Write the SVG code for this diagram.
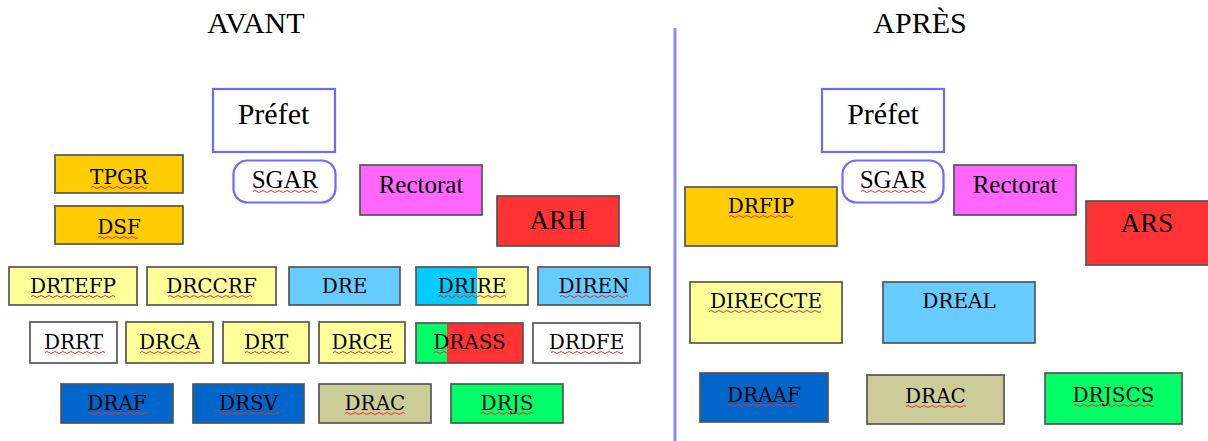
<svg xmlns="http://www.w3.org/2000/svg" width="1208" height="441" viewBox="0 0 1208 441">
<defs>
<style>
.b{stroke:#555;stroke-width:1.7}
.o{fill:none;stroke:#555;stroke-width:1.7}
.p{fill:#fff;stroke:#6b6bff;stroke-width:2.2}
.l{font-family:"DejaVu Serif",serif;font-size:20px;fill:#000;text-anchor:middle}
.s{font-family:"Liberation Serif",serif;fill:#000;text-anchor:middle}
.t{font-family:"Liberation Serif",serif;font-size:30px;fill:#000;text-anchor:middle}
.w{fill:none;stroke:#e8322e;stroke-width:1}
.y1{fill:#ffcc00}.y2{fill:#ffff99}.bl{fill:#66ccff}.cy{fill:#00ccff}.gr{fill:#00ff66}.rd{fill:#ff3333}.mg{fill:#ff66ff}.db{fill:#0066cc}.kh{fill:#cccc99}.wh{fill:#fff}
</style>
</defs>
<rect width="1208" height="441" fill="#fff"/>
<text class="t" x="256" y="33">AVANT</text>
<text class="t" x="920" y="33">APRÈS</text>
<g id="divider"><line x1="675" y1="28" x2="675" y2="441" stroke="#8c8cff" stroke-width="3"/></g>
<g id="connectors"></g>

<!-- AVANT -->
<g id="prefet-avant"><rect class="p" x="213" y="89" width="122" height="63"/><text class="s" font-size="30" x="273.5" y="124">Préfet</text></g>
<g id="sgar-avant"><rect class="p" x="233.5" y="160.5" width="102" height="42" rx="14"/><text class="s" font-size="25" x="285" y="188">SGAR</text>
<path class="w" d="M253 191.5 q2 -2 4 0 t4 0 t4 0 t4 0 t4 0 t4 0 t4 0 t4 0 t4 0 t4 0 t4 0 t4 0 t4 0 t4 0 t4 0 t4 0"/></g>
<g id="tpgr"><rect class="b y1" x="55" y="155" width="128" height="38"/><text class="l" x="119" y="184">TPGR</text>
<path class="w" d="M91 187.5 q2 -2 4 0 t4 0 t4 0 t4 0 t4 0 t4 0 t4 0 t4 0 t4 0 t4 0 t4 0 t4 0 t4 0 t4 0"/></g>
<g id="dsf"><rect class="b y1" x="55" y="206" width="128" height="38"/><text class="l" x="119" y="234">DSF</text>
<path class="w" d="M98 237.5 q2 -2 4 0 t4 0 t4 0 t4 0 t4 0 t4 0 t4 0 t4 0 t4 0 t4 0"/></g>
<g id="rectorat-avant"><rect class="b mg" x="360" y="165" width="122" height="50"/><text class="s" font-size="25" x="421" y="193">Rectorat</text></g>
<g id="arh"><rect class="b rd" x="497" y="196" width="122" height="50"/><text class="s" font-size="27" x="558" y="229">ARH</text>
<path class="w" d="M530 232.5 q2 -2 4 0 t4 0 t4 0 t4 0 t4 0 t4 0 t4 0 t4 0 t4 0 t4 0 t4 0 t4 0 t4 0 t4 0"/></g>

<g id="drtefp"><rect class="b y2" x="9" y="267" width="128" height="38"/><text class="l" x="73" y="293">DRTEFP</text>
<path class="w" d="M31 296.5 q2 -2 4 0 t4 0 t4 0 t4 0 t4 0 t4 0 t4 0 t4 0 t4 0 t4 0 t4 0 t4 0 t4 0 t4 0 t4 0 t4 0 t4 0 t4 0 t4 0 t4 0 t4 0"/></g>
<g id="drccrf"><rect class="b y2" x="147" y="267" width="129" height="38"/><text class="l" x="211.5" y="293">DRCCRF</text>
<path class="w" d="M168 296.5 q2 -2 4 0 t4 0 t4 0 t4 0 t4 0 t4 0 t4 0 t4 0 t4 0 t4 0 t4 0 t4 0 t4 0 t4 0 t4 0 t4 0 t4 0 t4 0 t4 0 t4 0 t4 0"/></g>
<g id="dre"><rect class="b bl" x="289" y="267" width="111" height="38"/><text class="l" x="344.5" y="293">DRE</text></g>
<g id="drire"><rect class="cy" x="416" y="267" width="61" height="38"/><rect class="y2" x="477" y="267" width="51" height="38"/><rect class="o" x="416" y="267" width="112" height="38"/><text class="l" x="472" y="293">DRIRE</text>
<path class="w" d="M438 296.5 q2 -2 4 0 t4 0 t4 0 t4 0 t4 0 t4 0 t4 0 t4 0 t4 0 t4 0 t4 0 t4 0 t4 0 t4 0 t4 0 t4 0 t4 0"/></g>
<g id="diren"><rect class="b bl" x="538" y="267" width="112" height="38"/><text class="l" x="594" y="293">DIREN</text>
<path class="w" d="M560 296.5 q2 -2 4 0 t4 0 t4 0 t4 0 t4 0 t4 0 t4 0 t4 0 t4 0 t4 0 t4 0 t4 0 t4 0 t4 0 t4 0 t4 0 t4 0"/></g>

<g id="drrt"><rect class="b wh" x="30" y="322" width="87" height="41"/><text class="l" x="73.5" y="349">DRRT</text>
<path class="w" d="M45 352.5 q2 -2 4 0 t4 0 t4 0 t4 0 t4 0 t4 0 t4 0 t4 0 t4 0 t4 0 t4 0 t4 0 t4 0 t4 0 t4 0"/></g>
<g id="drca"><rect class="b y2" x="126" y="322" width="87" height="41"/><text class="l" x="169.5" y="349">DRCA</text>
<path class="w" d="M140 352.5 q2 -2 4 0 t4 0 t4 0 t4 0 t4 0 t4 0 t4 0 t4 0 t4 0 t4 0 t4 0 t4 0 t4 0 t4 0 t4 0"/></g>
<g id="drt"><rect class="b y2" x="223" y="322" width="86" height="41"/><text class="l" x="266" y="349">DRT</text>
<path class="w" d="M245 352.5 q2 -2 4 0 t4 0 t4 0 t4 0 t4 0 t4 0 t4 0 t4 0 t4 0 t4 0 t4 0"/></g>
<g id="drce"><rect class="b y2" x="319" y="322" width="86" height="41"/><text class="l" x="362" y="349">DRCE</text>
<path class="w" d="M333 352.5 q2 -2 4 0 t4 0 t4 0 t4 0 t4 0 t4 0 t4 0 t4 0 t4 0 t4 0 t4 0 t4 0 t4 0 t4 0 t4 0"/></g>
<g id="drass"><rect class="gr" x="416" y="323" width="31" height="40"/><rect class="rd" x="447" y="323" width="76" height="40"/><rect class="o" x="416" y="323" width="107" height="40"/><text class="l" x="469.5" y="349">DRASS</text>
<path class="w" d="M434 352.5 q2 -2 4 0 t4 0 t4 0 t4 0 t4 0 t4 0 t4 0 t4 0 t4 0 t4 0 t4 0 t4 0 t4 0 t4 0 t4 0 t4 0 t4 0 t4 0"/></g>
<g id="drdfe"><rect class="b wh" x="533" y="323" width="107" height="40"/><text class="l" x="586.5" y="349">DRDFE</text>
<path class="w" d="M551 352.5 q2 -2 4 0 t4 0 t4 0 t4 0 t4 0 t4 0 t4 0 t4 0 t4 0 t4 0 t4 0 t4 0 t4 0 t4 0 t4 0 t4 0 t4 0 t4 0"/></g>

<g id="draf"><rect class="b db" x="61" y="384" width="112" height="39"/><text class="l" x="117" y="410">DRAF</text>
<path class="w" d="M88 413.5 q2 -2 4 0 t4 0 t4 0 t4 0 t4 0 t4 0 t4 0 t4 0 t4 0 t4 0 t4 0 t4 0 t4 0 t4 0 t4 0"/></g>
<g id="drsv"><rect class="b db" x="193" y="384" width="111" height="39"/><text class="l" x="248.5" y="410">DRSV</text>
<path class="w" d="M219 413.5 q2 -2 4 0 t4 0 t4 0 t4 0 t4 0 t4 0 t4 0 t4 0 t4 0 t4 0 t4 0 t4 0 t4 0 t4 0 t4 0"/></g>
<g id="drac-avant"><rect class="b kh" x="319" y="384" width="112" height="39"/><text class="l" x="375" y="410">DRAC</text>
<path class="w" d="M345 413.5 q2 -2 4 0 t4 0 t4 0 t4 0 t4 0 t4 0 t4 0 t4 0 t4 0 t4 0 t4 0 t4 0 t4 0 t4 0 t4 0"/></g>
<g id="drjs"><rect class="b gr" x="451" y="384" width="112" height="39"/><text class="l" x="507" y="410">DRJS</text>
<path class="w" d="M481 413.5 q2 -2 4 0 t4 0 t4 0 t4 0 t4 0 t4 0 t4 0 t4 0 t4 0 t4 0 t4 0 t4 0 t4 0"/></g>

<!-- APRES -->
<g id="prefet-apres"><rect class="p" x="822" y="89" width="122" height="63"/><text class="s" font-size="30" x="883" y="124">Préfet</text></g>
<g id="sgar-apres"><rect class="p" x="842.5" y="160.5" width="101" height="42" rx="14"/><text class="s" font-size="25" x="893" y="188">SGAR</text>
<path class="w" d="M861 191.5 q2 -2 4 0 t4 0 t4 0 t4 0 t4 0 t4 0 t4 0 t4 0 t4 0 t4 0 t4 0 t4 0 t4 0 t4 0 t4 0 t4 0"/></g>
<g id="rectorat-apres"><rect class="b mg" x="954" y="165" width="122" height="50"/><text class="s" font-size="25" x="1015" y="193">Rectorat</text></g>
<g id="ars"><rect class="b rd" x="1086" y="201" width="123" height="64"/><text class="s" font-size="27" x="1147" y="232">ARS</text></g>
<g id="drfip"><rect class="b y1" x="685" y="187" width="152" height="59"/><text class="l" x="761" y="213">DRFIP</text>
<path class="w" d="M729 216.5 q2 -2 4 0 t4 0 t4 0 t4 0 t4 0 t4 0 t4 0 t4 0 t4 0 t4 0 t4 0 t4 0 t4 0 t4 0 t4 0 t4 0"/></g>
<g id="direccte"><rect class="b y2" x="690" y="282" width="152" height="61"/><text class="l" x="766" y="308">DIRECCTE</text>
<path class="w" d="M709 311.5 q2 -2 4 0 t4 0 t4 0 t4 0 t4 0 t4 0 t4 0 t4 0 t4 0 t4 0 t4 0 t4 0 t4 0 t4 0 t4 0 t4 0 t4 0 t4 0 t4 0 t4 0 t4 0 t4 0 t4 0 t4 0 t4 0 t4 0 t4 0 t4 0"/></g>
<g id="dreal"><rect class="b bl" x="883" y="282" width="152" height="61"/><text class="l" x="959" y="308">DREAL</text></g>
<g id="draaf"><rect class="b db" x="700" y="373" width="128" height="49"/><text class="l" x="764" y="402">DRAAF</text>
<path class="w" d="M728 405.5 q2 -2 4 0 t4 0 t4 0 t4 0 t4 0 t4 0 t4 0 t4 0 t4 0 t4 0 t4 0 t4 0 t4 0 t4 0 t4 0 t4 0 t4 0 t4 0"/></g>
<g id="drac-apres"><rect class="b kh" x="867" y="375" width="137" height="49"/><text class="l" x="935.5" y="403">DRAC</text>
<path class="w" d="M906 406.5 q2 -2 4 0 t4 0 t4 0 t4 0 t4 0 t4 0 t4 0 t4 0 t4 0 t4 0 t4 0 t4 0 t4 0 t4 0 t4 0"/></g>
<g id="drjscs"><rect class="b gr" x="1045" y="373" width="137" height="51"/><text class="l" x="1113.5" y="402">DRJSCS</text>
<path class="w" d="M1074 405.5 q2 -2 4 0 t4 0 t4 0 t4 0 t4 0 t4 0 t4 0 t4 0 t4 0 t4 0 t4 0 t4 0 t4 0 t4 0 t4 0 t4 0 t4 0 t4 0 t4 0 t4 0"/></g>
</svg>
